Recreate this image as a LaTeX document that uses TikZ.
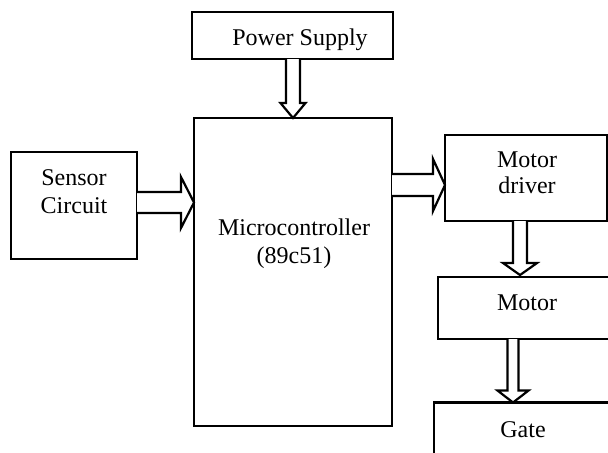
\documentclass[tikz,border=0pt]{standalone}
\usepackage{fontspec}
\setmainfont{Liberation Serif}
\usetikzlibrary{calc}
\tikzset{
  box/.style={draw, line width=1.1pt, inner sep=0pt, outer sep=0pt, rectangle},
  txt/.style={anchor=base, inner sep=0pt, font=\fontsize{12}{14}\selectfont},
  blk/.style={draw, line width=1.1pt, line join=miter, fill=white}
}
\newcommand\darr[5]{%
  \draw[blk] ($(#1)+(-#3,0)$) -- ($(#2)+(-#3,-#5)$) -- ($(#2)+(-#4,-#5)$) -- (#2) -- ($(#2)+(#4,-#5)$) -- ($(#2)+(#3,-#5)$) -- ($(#1)+(#3,0)$);}
\newcommand\rarr[5]{%
  \draw[blk] ($(#1)+(0,-#3)$) -- ($(#2)+(-#5,-#3)$) -- ($(#2)+(-#5,-#4)$) -- (#2) -- ($(#2)+(-#5,#4)$) -- ($(#2)+(-#5,#3)$) -- ($(#1)+(0,#3)$);}
\begin{document}
\begin{tikzpicture}[x=0.5pt,y=-0.5pt]
\clip (0,0) rectangle (608,452);
\fill[white] (0,0) rectangle (608,452);
% boxes
\node[box, minimum width=100.5pt, minimum height=23.5pt] (ps) at (292.5,35.5) {};
\node[box, minimum width=99pt, minimum height=154pt] (mc) at (293,272) {};
\node[box, minimum width=63pt, minimum height=53.5pt] (sc) at (74,205.5) {};
\node[box, minimum width=81pt, minimum height=43pt] (md) at (526,178) {};
\node[box, minimum width=89pt, minimum height=31pt] (mo) at (527,308) {};
\node[box, minimum width=89pt, minimum height=34pt] (ga) at (523,436.5) {};
% texts
\node[txt] (tps) at (300,45) {Power Supply};
\node[txt] (tmc1) at (294,235) {Microcontroller};
\node[txt] (tmc2) at (294,263) {(89c51)};
\node[txt] (tsc1) at (74,185) {Sensor};
\node[txt] (tsc2) at (74,213) {Circuit};
\node[txt] (tmd1) at (527,167) {Motor};
\node[txt] (tmd2) at (527,193) {driver};
\node[txt] (tmo) at (527,310) {Motor};
\node[txt] (tga) at (523,437) {Gate};
% arrow anchor points
\coordinate (a1s) at (ps.south -| 293,0);
\coordinate (a1t) at (mc.north -| 293,0);
\coordinate (a2t) at (mc.west |- 0,202.5);
\coordinate (a2s) at (sc.east |- a2t);
\coordinate (a3s) at (mc.east |- 0,185);
\coordinate (a3t) at (md.west |- a3s);
\coordinate (a4s) at (md.south -| 520,0);
\coordinate (a4t) at ($(mo.north -| 520,0)+(0,-2)$);
\coordinate (a5s) at (mo.south -| 513,0);
\coordinate (a5t) at (ga.north -| 513,0);
% block arrows
\darr{a1s}{a1t}{7}{12.5}{15}
\rarr{a2s}{a2t}{10.5}{25.5}{13}
\rarr{a3s}{a3t}{11}{26}{12}
\darr{a4s}{a4t}{7}{17}{12}
\darr{a5s}{a5t}{5.5}{15.5}{12}
\end{tikzpicture}
\end{document}
